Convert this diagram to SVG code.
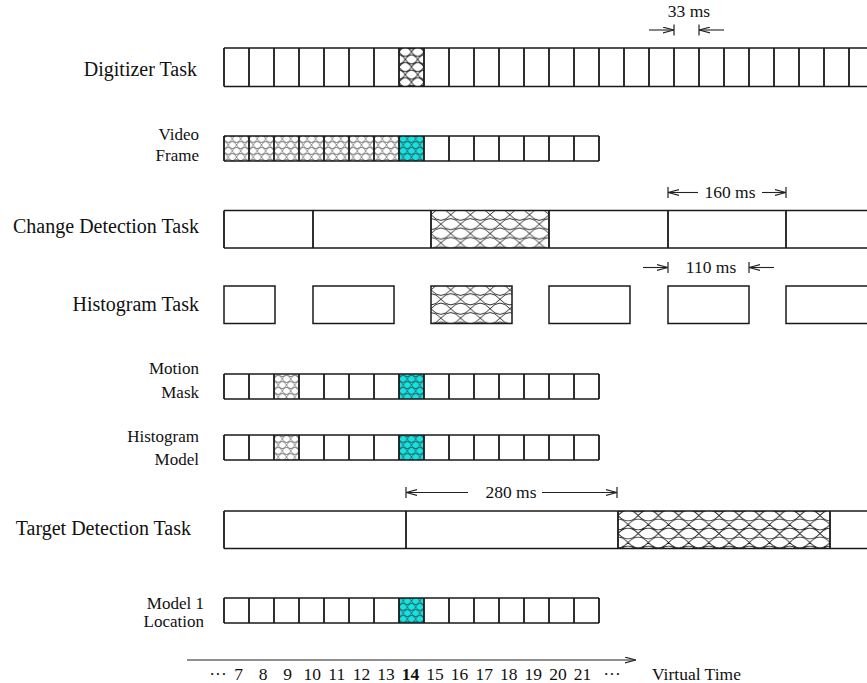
<svg xmlns="http://www.w3.org/2000/svg" width="867" height="683" viewBox="0 0 867 683">
  <style>
    text { font-family: "Liberation Serif", "Times New Roman", serif; fill: #111; }
    .task { font-size: 20px; text-anchor: end; }
    .lbl { font-size: 17px; text-anchor: end; }
    .dim { font-size: 17.5px; text-anchor: middle; }
    .num { font-size: 17.5px; text-anchor: middle; }
    .frame { fill: none; stroke: #1a1a1a; stroke-width: 1.5; }
    .tick { fill: none; stroke: #1a1a1a; stroke-width: 1.8; }
    .conn { fill: none; stroke: #222; stroke-width: 1.1; }
    .bar { fill: none; stroke: #222; stroke-width: 1.2; }
    .cyan { fill: #12e4e4; }
  </style>
  <defs>
    <!-- fish-scale net: rows of lens chains, every other row shifted by half a scale; rows overlap slightly -->
    <path id="scales" d="M0,5 Q10,17 20,5 M0,5 Q10,-7 20,5 M0,25 Q10,13 20,25 M-10,15 Q0,27 10,15 M10,15 Q20,27 30,15 M-10,15 Q0,3 10,15 M10,15 Q20,3 30,15 M-10,-5 Q0,7 10,-5 M10,-5 Q20,7 30,-5"/>
    <pattern id="p-big" patternUnits="userSpaceOnUse" width="20" height="20" patternTransform="translate(431,210) scale(0.985,0.94)">
      <use href="#scales" fill="none" stroke="#262626" stroke-width="1"/>
    </pattern>
    <pattern id="p-tgt" patternUnits="userSpaceOnUse" width="20" height="20" patternTransform="translate(618,511) scale(1.01,0.9)">
      <use href="#scales" fill="none" stroke="#262626" stroke-width="1"/>
    </pattern>
    <pattern id="p-dig" patternUnits="userSpaceOnUse" width="20" height="20" patternTransform="translate(399,48) scale(0.625,0.76)">
      <use href="#scales" fill="none" stroke="#262626" stroke-width="1.4"/>
    </pattern>
    <pattern id="p-gray" patternUnits="userSpaceOnUse" width="20" height="20" patternTransform="translate(224,136) scale(0.4167,0.6)">
      <use href="#scales" fill="none" stroke="#8c8c8c" stroke-width="1.7"/>
    </pattern>
    <pattern id="p-teal" patternUnits="userSpaceOnUse" width="20" height="20" patternTransform="translate(399,136) scale(0.4167,0.6)">
      <use href="#scales" fill="none" stroke="#2b6f6f" stroke-width="1.7"/>
    </pattern>
    <marker id="ah" viewBox="0 0 11 7" refX="11" refY="3.5" markerWidth="11" markerHeight="7" markerUnits="userSpaceOnUse" orient="auto">
      <path d="M0,0.6 L11,3.5 L0,6.4" fill="none" stroke="#222" stroke-width="1.1"/>
    </marker>
  </defs>

  <!-- Digitizer Task: 33 ms frames -->
  <g id="digitizer">
    <text class="task" x="197" y="76">Digitizer Task</text>
    <rect x="399" y="48" width="25" height="38.5" fill="url(#p-dig)"/>
    <path class="frame" d="M224,48 H870 M224,86.5 H870"/>
    <path class="tick" d="M224,48V86.5 M249,48V86.5 M274,48V86.5 M299,48V86.5 M324,48V86.5 M349,48V86.5 M374,48V86.5 M399,48V86.5 M424,48V86.5 M449,48V86.5 M474,48V86.5 M499,48V86.5 M524,48V86.5 M549,48V86.5 M574,48V86.5 M599,48V86.5 M624,48V86.5 M649,48V86.5 M674,48V86.5 M699,48V86.5 M724,48V86.5 M749,48V86.5 M774,48V86.5 M799,48V86.5 M824,48V86.5 M849,48V86.5"/>
  </g>

  <!-- Video Frame buffer -->
  <g id="video-frame">
    <text class="lbl" x="199" y="140">Video</text>
    <text class="lbl" x="199" y="161">Frame</text>
    <rect x="224" y="136" width="175" height="25" fill="url(#p-gray)"/>
    <rect class="cyan" x="399" y="136" width="25" height="25"/>
    <rect x="399" y="136" width="25" height="25" fill="url(#p-teal)"/>
    <path class="frame" d="M224,136 H599 M224,161 H599"/>
    <path class="tick" d="M224,136V161 M249,136V161 M274,136V161 M299,136V161 M324,136V161 M349,136V161 M374,136V161 M399,136V161 M424,136V161 M449,136V161 M474,136V161 M499,136V161 M524,136V161 M549,136V161 M574,136V161 M599,136V161"/>
  </g>

  <!-- Change Detection Task: 160 ms period -->
  <g id="change-detection">
    <text class="task" x="199" y="233">Change Detection Task</text>
    <rect x="431" y="210.5" width="118" height="37.5" fill="url(#p-big)"/>
    <path class="frame" d="M224,210.5 H870 M224,248 H870"/>
    <path class="tick" d="M224,210.5V248 M313,210.5V248 M431,210.5V248 M549,210.5V248 M668,210.5V248 M786,210.5V248"/>
  </g>

  <!-- Histogram Task: 110 ms runs -->
  <g id="histogram-task">
    <text class="task" x="199" y="311">Histogram Task</text>
    <rect x="431" y="286" width="81" height="37.5" fill="url(#p-big)"/>
    <rect class="frame" x="224" y="286" width="51" height="37.5"/>
    <rect class="frame" x="313" y="286" width="81" height="37.5"/>
    <rect class="frame" x="431" y="286" width="81" height="37.5"/>
    <rect class="frame" x="549" y="286" width="81" height="37.5"/>
    <rect class="frame" x="668" y="286" width="81" height="37.5"/>
    <path class="frame" d="M870,286 H786 V323.5 H870"/>
  </g>

  <!-- Motion Mask buffer -->
  <g id="motion-mask">
    <text class="lbl" x="199" y="374">Motion</text>
    <text class="lbl" x="199" y="398">Mask</text>
    <rect x="274" y="374" width="25" height="25" fill="url(#p-gray)"/>
    <rect class="cyan" x="399" y="374" width="25" height="25"/>
    <rect x="399" y="374" width="25" height="25" fill="url(#p-teal)"/>
    <path class="frame" d="M224,374 H599 M224,399 H599"/>
    <path class="tick" d="M224,374V399 M249,374V399 M274,374V399 M299,374V399 M324,374V399 M349,374V399 M374,374V399 M399,374V399 M424,374V399 M449,374V399 M474,374V399 M499,374V399 M524,374V399 M549,374V399 M574,374V399 M599,374V399"/>
  </g>

  <!-- Histogram Model buffer -->
  <g id="histogram-model">
    <text class="lbl" x="199" y="442">Histogram</text>
    <text class="lbl" x="199" y="465">Model</text>
    <rect x="274" y="435" width="25" height="25" fill="url(#p-gray)"/>
    <rect class="cyan" x="399" y="435" width="25" height="25"/>
    <rect x="399" y="435" width="25" height="25" fill="url(#p-teal)"/>
    <path class="frame" d="M224,435 H599 M224,460 H599"/>
    <path class="tick" d="M224,435V460 M249,435V460 M274,435V460 M299,435V460 M324,435V460 M349,435V460 M374,435V460 M399,435V460 M424,435V460 M449,435V460 M474,435V460 M499,435V460 M524,435V460 M549,435V460 M574,435V460 M599,435V460"/>
  </g>

  <!-- Target Detection Task: 280 ms period -->
  <g id="target-detection">
    <text class="task" x="191" y="535">Target Detection Task</text>
    <rect x="618" y="511" width="212" height="37.5" fill="url(#p-tgt)"/>
    <path class="frame" d="M224,511 H870 M224,548.5 H870"/>
    <path class="tick" d="M224,511V548.5 M406,511V548.5 M618,511V548.5 M830,511V548.5"/>
  </g>

  <!-- Model 1 Location buffer -->
  <g id="model1-location">
    <text class="lbl" x="204" y="609">Model 1</text>
    <text class="lbl" x="204" y="627">Location</text>
    <rect class="cyan" x="399" y="598" width="25" height="25"/>
    <rect x="399" y="598" width="25" height="25" fill="url(#p-teal)"/>
    <path class="frame" d="M224,598 H599 M224,623 H599"/>
    <path class="tick" d="M224,598V623 M249,598V623 M274,598V623 M299,598V623 M324,598V623 M349,598V623 M374,598V623 M399,598V623 M424,598V623 M449,598V623 M474,598V623 M499,598V623 M524,598V623 M549,598V623 M574,598V623 M599,598V623"/>
  </g>

  <!-- period dimensions and the time axis -->
  <g id="connectors">
    <text class="dim" x="689" y="17">33 ms</text>
    <path class="conn" d="M649,30 H674" marker-end="url(#ah)"/>
    <path class="conn" d="M724,30 H699" marker-end="url(#ah)"/>
    <path class="bar" d="M674,24.5V35.5 M699,24.5V35.5"/>

    <text class="dim" x="730" y="198">160 ms</text>
    <path class="conn" d="M698,192.5 H668" marker-end="url(#ah)"/>
    <path class="conn" d="M762,192.5 H786" marker-end="url(#ah)"/>
    <path class="bar" d="M668,187V198 M786,187V198"/>

    <text class="dim" x="711" y="273">110 ms</text>
    <path class="conn" d="M643,267.5 H668" marker-end="url(#ah)"/>
    <path class="conn" d="M774,267.5 H749" marker-end="url(#ah)"/>
    <path class="bar" d="M668,262V273 M749,262V273"/>

    <text class="dim" x="511" y="498">280 ms</text>
    <path class="conn" d="M468,492.5 H406" marker-end="url(#ah)"/>
    <path class="conn" d="M542,492.5 H617" marker-end="url(#ah)"/>
    <path class="bar" d="M406,487V498 M617,487V498"/>

    <path class="conn" d="M187,660 H636" marker-end="url(#ah)"/>
  </g>

  <!-- virtual time tick labels -->
  <g id="time-axis">
    <text class="num" x="218" y="680">···</text>
    <text class="num" x="238.5" y="680">7</text>
    <text class="num" x="263.1" y="680">8</text>
    <text class="num" x="287.6" y="680">9</text>
    <text class="num" x="312.2" y="680">10</text>
    <text class="num" x="336.8" y="680">11</text>
    <text class="num" x="361.4" y="680">12</text>
    <text class="num" x="385.9" y="680">13</text>
    <text class="num" x="410.5" y="680" font-weight="bold">14</text>
    <text class="num" x="435.1" y="680">15</text>
    <text class="num" x="459.6" y="680">16</text>
    <text class="num" x="484.2" y="680">17</text>
    <text class="num" x="508.8" y="680">18</text>
    <text class="num" x="533.3" y="680">19</text>
    <text class="num" x="557.9" y="680">20</text>
    <text class="num" x="582.5" y="680">21</text>
    <text class="num" x="612" y="680">···</text>
    <text x="652" y="680" font-size="17.5px">Virtual Time</text>
  </g>
</svg>
